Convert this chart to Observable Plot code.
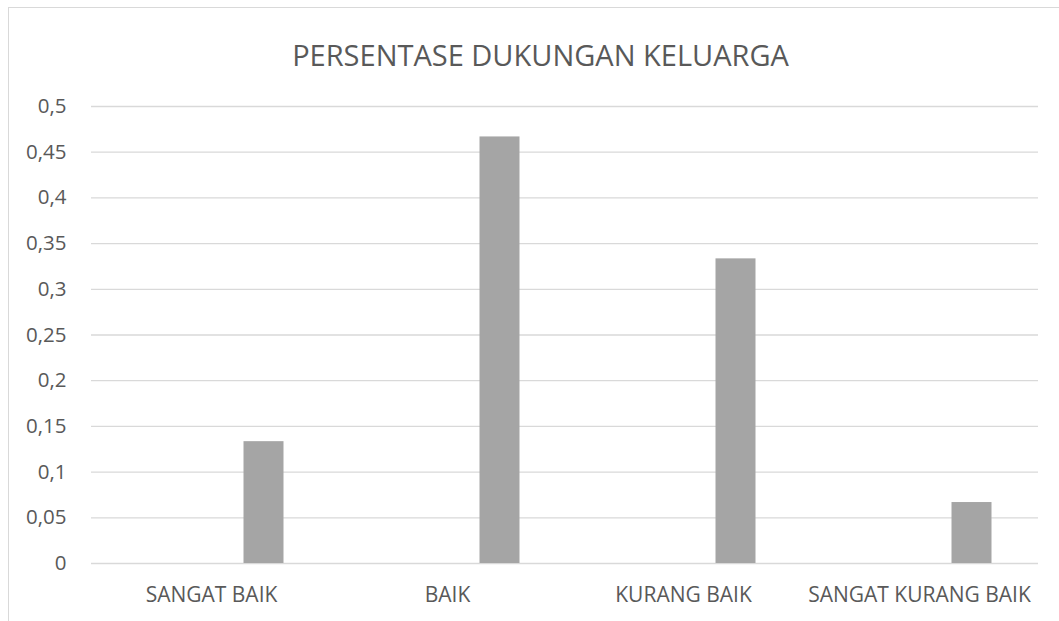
<!DOCTYPE html>
<html>
<head>
<meta charset="utf-8">
<script src="https://cdn.jsdelivr.net/npm/d3@7"></script>
<script src="https://cdn.jsdelivr.net/npm/@observablehq/plot@0.6"></script>
<style>
  html, body { margin: 0; padding: 0; background: #fff; }
  #frame { position: absolute; left: 8px; top: 7px; width: 1060px; height: 700px;
           border-top: 1px solid #d9d9d9; border-left: 1px solid #d9d9d9; box-sizing: border-box; }
  #title { position: absolute; left: 0; top: 0; width: 1059px; height: 90px; text-align: center;
           font-family: "Open Sans", sans-serif; font-size: 29px; color: #595959;
           line-height: 1; padding-top: 40px; box-sizing: border-box; padding-left: 22px; }
  #chart { position: absolute; left: 0; top: 90px; }
  #chart svg text { fill: #595959; }
</style>
</head>
<body>
<div id="frame"></div>
<div id="title">PERSENTASE DUKUNGAN KELUARGA</div>
<div id="chart"></div>
<script>
const categories = ["SANGAT BAIK", "BAIK", "KURANG BAIK", "SANGAT KURANG BAIK"];
const values = [0.1333, 0.4667, 0.3333, 0.0667];
const yTicks = [0, 0.05, 0.1, 0.15, 0.2, 0.25, 0.3, 0.35, 0.4, 0.45, 0.5];

const data = categories.map((c, i) => ({category: c, value: values[i]}));
const fmt = v => String(+v.toFixed(2)).replace(".", ",");

const chart = Plot.plot({
  width: 1059,
  height: 531,
  marginLeft: 91,
  marginRight: 21,
  marginTop: 16,
  marginBottom: 58,
  style: {fontFamily: "Open Sans, sans-serif", fontSize: "20px", color: "#595959", background: "transparent"},
  x: {domain: categories, padding: 0, label: null},
  y: {domain: [0, 0.5], label: null},
  marks: [
    Plot.gridY(yTicks, {stroke: "#d9d9d9", strokeOpacity: 1, strokeWidth: 1.3}),
    Plot.barY(data, {x: "category", y: "value", fill: "#a5a5a5", insetLeft: 150.5, insetRight: 45.5}),
    Plot.axisY(yTicks, {tickSize: 0, tickPadding: 25, tickFormat: fmt, label: null, fontSize: 20.5}),
    Plot.axisX({tickSize: 0, tickPadding: 24, label: null, fontSize: 21})
  ]
});
document.getElementById("chart").appendChild(chart);
</script>
</body>
</html>
